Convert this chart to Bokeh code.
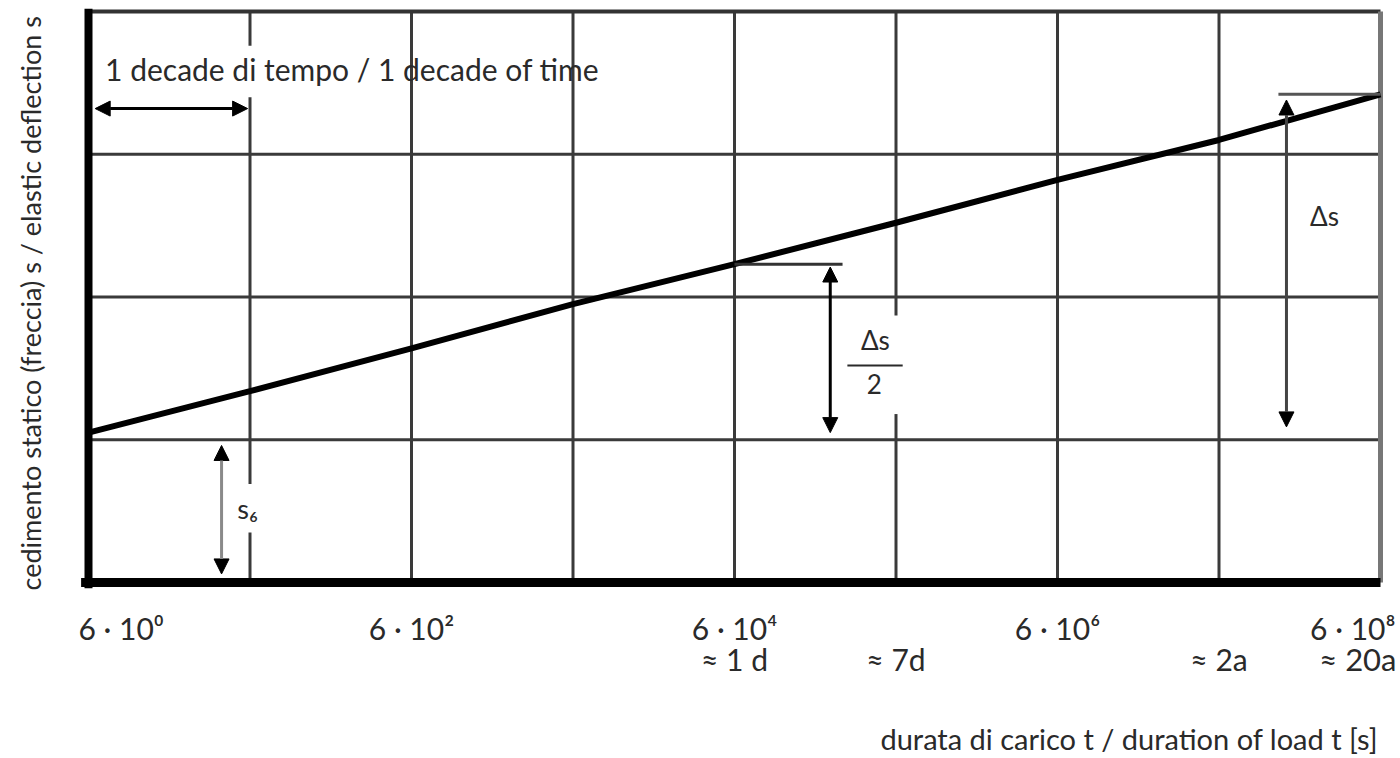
import math
from bokeh.plotting import figure
from bokeh.models import Arrow, NormalHead, Range1d
from bokeh.core.properties import value
from bokeh.embed import file_html
from bokeh.resources import INLINE

# Duration of load [s] at each decade and the static deflection read on the curve
t_load = [6e0, 6e1, 6e2, 6e3, 6e4, 6e5, 6e6, 6e7, 6e8]
s_defl = [1.05, 1.34, 1.64, 1.95, 2.23, 2.52, 2.82, 3.10, 3.42]

# Horizontal reference levels of the deflection grid
grid_levels = [1, 2, 3]

# Time axis labels
tick_t = [6e0, 6e2, 6e4, 6e6, 6e8]
tick_labels = ["6 · 10⁰", "6 · 10²", "6 · 10⁴", "6 · 10⁶", "6 · 10⁸"]
equiv_t = [6e4, 6e5, 6e7, 6e8]
equiv_labels = ["≈ 1 d", "≈ 7d", "≈ 2a", "≈ 20a"]

FONT = "Lato"
INK = "#2a2a2a"
GRID = "#3a3a3a"

# Canvas geometry: one decade of time and one deflection unit in pixels
W, H = 1400, 758
X0, DEC = 88.0, 161.5
Y0, UNIT = 582.0, 142.75
x_range = Range1d(6 * 10 ** (-X0 / DEC), 6 * 10 ** ((W - X0) / DEC))
y_range = Range1d(-(H - Y0) / UNIT, Y0 / UNIT)

p = figure(width=W, height=H, x_axis_type="log", x_range=x_range, y_range=y_range,
           x_axis_location=None, y_axis_location=None, toolbar_location=None,
           output_backend="svg", min_border=0)
p.grid.visible = False
p.outline_line_color = None
p.background_fill_color = "white"
p.border_fill_color = "white"

t_first, t_last = t_load[0], t_load[-1]
top = 4.0

# Vertical decade lines, interrupted where labels sit on them
vsegs = {t: [(0.0, top)] for t in t_load[1:-1]}
vsegs[6e1] = [(0.0, 0.35), (0.69, 3.40), (3.76, top)]
vsegs[6e5] = [(0.0, 1.18), (1.87, top)]
vx, vy0, vy1 = [], [], []
for t, parts in vsegs.items():
    for a, b in parts:
        vx.append(t); vy0.append(a); vy1.append(b)
p.segment(x0=vx, y0=vy0, x1=vx, y1=vy1, line_color=GRID, line_width=3)

# Horizontal deflection levels
p.segment(x0=[t_first] * len(grid_levels), y0=grid_levels,
          x1=[t_last] * len(grid_levels), y1=grid_levels,
          line_color=GRID, line_width=3)

# Frame: heavy left and bottom axes, lighter top and right edges
p.segment(x0=[t_first], y0=[top], x1=[t_last], y1=[top], line_color="#333333", line_width=4)
p.segment(x0=[t_last], y0=[0], x1=[t_last], y1=[top], line_color="#777777", line_width=5)
p.segment(x0=[t_first], y0=[-0.04], x1=[t_first], y1=[top + 0.02], line_color="black", line_width=8)
p.segment(x0=[t_first * 0.9], y0=[0], x1=[t_last], y1=[0], line_color="black", line_width=9)

# Creep curve
p.line(t_load, s_defl, line_color="black", line_width=6)

# Reference ticks for the deflection increments
p.segment(x0=[t_load[4]], y0=[s_defl[4]], x1=[2.8e5], y1=[s_defl[4]], line_color="#333333", line_width=3)
p.segment(x0=[1.4e8], y0=[s_defl[8]], x1=[t_last], y1=[s_defl[8]], line_color="#555555", line_width=3)


def arrow(x0, y0, x1, y1, color="black"):
    p.add_layout(Arrow(
        start=NormalHead(size=15, fill_color="black", line_color="black", line_width=1),
        end=NormalHead(size=15, fill_color="black", line_color="black", line_width=1),
        x_start=x0, y_start=y0, x_end=x1, y_end=y1,
        line_color=color, line_width=3))


arrow(6.6, 3.32, 58, 3.32)                                  # one decade
arrow(40, 0.06, 40, 0.96, color="#8a8a8a")                  # s6
arrow(2.35e5, s_defl[4] - 0.02, 2.35e5, 1.05)               # Δs / 2
arrow(1.57e8, s_defl[8] - 0.04, 1.57e8, 1.09, color="#444444")  # Δs


def label(x, y, text, size, align="center", baseline="middle", angle=0.0, x_offset=0):
    p.text(x=x, y=y, text=text, text_font=value(FONT), text_font_size=size,
           text_color=INK, text_align=align, text_baseline=baseline,
           angle=angle, x_offset=x_offset)


# Time axis labels
label([tick_t[0]], [-0.322], [tick_labels[0]], "30px", align="left", x_offset=-10)
label(tick_t[1:4], [-0.322] * 3, tick_labels[1:4], "30px")
label([tick_t[4]], [-0.322], [tick_labels[4]], "30px", align="right", x_offset=15)
label(equiv_t[:3], [-0.539] * 3, equiv_labels[:3], "30px")
label([equiv_t[3]], [-0.539], [equiv_labels[3]], "31px", align="right", x_offset=16)

# Axis titles
label([5.8e8], [-1.09], ["durata di carico t / duration of load t [s]"], "29px", align="right")
label([2.63], [-0.056], ["cedimento statico (freccia) s / elastic deflection s"], "27px",
      align="left", angle=math.pi / 2)

# Annotations inside the grid
label([7.6], [3.60], ["1 decade di tempo / 1 decade of time"], "30px", align="left")
label([50.1], [0.518], ["s₆"], "27px", align="left")
label([2.7e8], [2.57], ["Δs"], "26px")
label([4.47e5], [1.70], ["Δs"], "26px")
p.segment(x0=[3.0e5], y0=[1.52], x1=[6.6e5], y1=[1.52], line_color=INK, line_width=2)
label([4.4e5], [1.394], ["2"], "26px")

open("out.html", "w").write(file_html(p, INLINE))
